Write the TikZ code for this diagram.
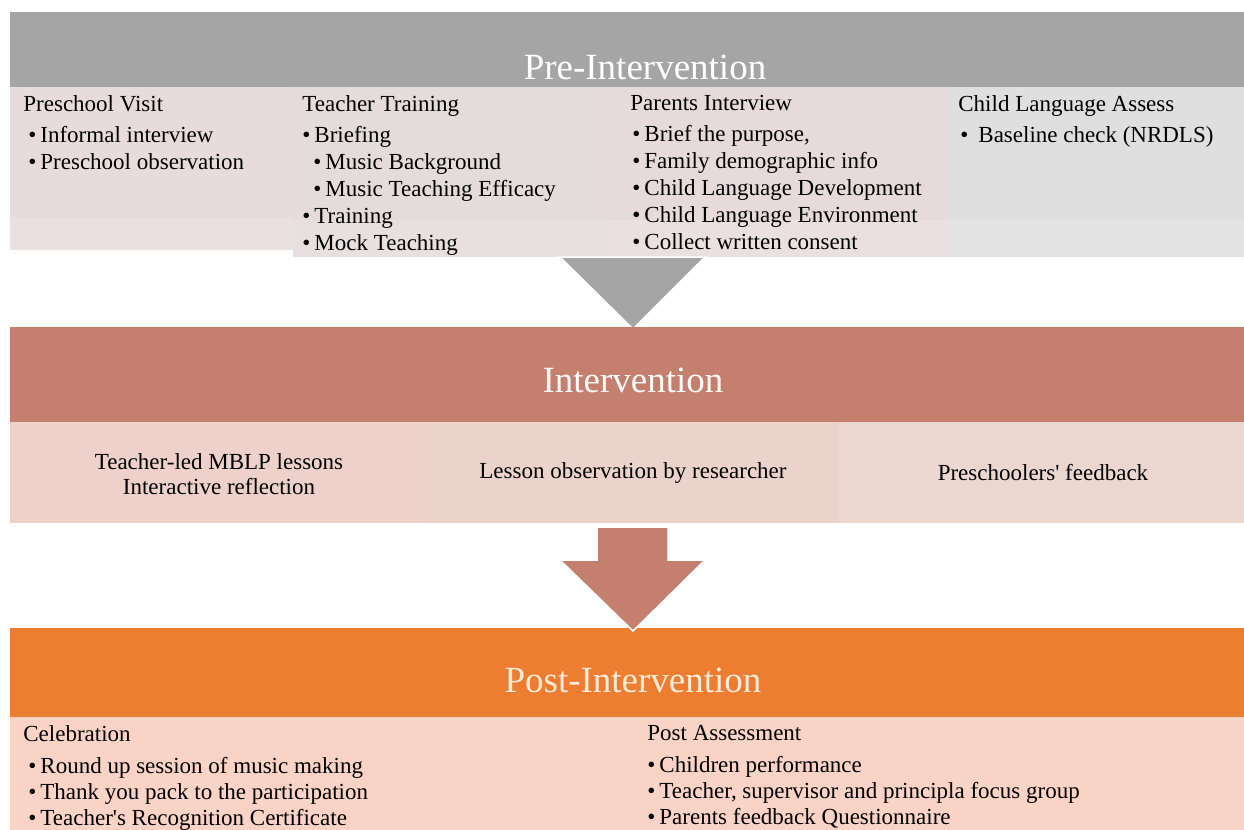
\documentclass[tikz,border=0pt]{standalone}
\usepackage{xcolor}
\usepackage{tikz}
\usepackage{fontspec}
\setmainfont{Liberation Serif}
\usetikzlibrary{positioning, backgrounds}

\definecolor{preGray}{HTML}{A5A5A5}
\definecolor{preA}{HTML}{E8DBDB}
\definecolor{preB}{HTML}{E4DBDB}
\definecolor{preC}{HTML}{E6DBDA}
\definecolor{preD}{HTML}{DFDFDF}
\definecolor{intBrown}{HTML}{C47F6E}
\definecolor{intA}{HTML}{EDD1CA}
\definecolor{intB}{HTML}{EBD3CC}
\definecolor{intC}{HTML}{ECD6D0}
\definecolor{postOrange}{HTML}{ED7D31}
\definecolor{postRow}{HTML}{F8D3C6}
\definecolor{postText}{HTML}{FDEBD9}

\newcommand{\bul}{\textbullet\hspace{2pt}}

\begin{document}
\begin{tikzpicture}[x=0.5pt, y=-0.5pt,
        title/.style={font=\fontsize{18.5}{22}\selectfont, text=white, inner sep=0pt},
        cell/.style={font=\fontsize{11.5}{13.5}\selectfont, align=left, anchor=north west, inner sep=0pt},
        mid/.style={font=\fontsize{11.5}{12.5}\selectfont, align=center, inner sep=0pt}]
        \useasboundingbox (0,0) rectangle (1244,830);

        % pre-intervention
        \fill[preGray] (10,12) rectangle (1244,87);
        \fill[preA] (10,87) rectangle (293,250);
        \fill[preB] (293,87) rectangle (605,257);
        \fill[preC] (605,87) rectangle (948,257);
        \fill[preD] (948,87) rectangle (1244,257);
        \fill[white, opacity=.15] (10,218) rectangle (293,250) (293,220) rectangle (1244,257);
        \node[title] (pre) at (645,67) {Pre-Intervention};
        \node[cell] (visit) at (23,95) {Preschool Visit\\[2pt]
              \hspace*{2.5pt}\bul Informal interview\\
              \hspace*{2.5pt}\bul Preschool observation};
        \node[cell] (training) at (302,95) {Teacher Training\\[2pt]
              \bul Briefing\\
              \hspace*{5.5pt}\bul Music Background\\
              \hspace*{5.5pt}\bul Music Teaching Efficacy\\
              \bul Training\\
              \bul Mock Teaching};
        \node[cell] (parents) at (630,95) {Parents Interview\\[2pt]
              \hspace*{1pt}\bul Brief the purpose,\\
              \hspace*{1pt}\bul Family demographic info\\
              \hspace*{1pt}\bul Child Language Development\\
              \hspace*{1pt}\bul Child Language Environment\\
              \hspace*{1pt}\bul Collect written consent};
        \node[cell] (assess) at (958,95) {Child Language Assess\\[2pt]
              \hspace*{1pt}\textbullet\hspace{5pt}Baseline check (NRDLS)};
        \fill[preGray, draw=white, line width=.75pt] (560,257) -- (705,257) -- (633,329) -- cycle;

        % intervention
        \fill[intBrown] (10,327) rectangle (1244,422);
        \fill[intA] (10,422) rectangle (428,523);
        \fill[intB] (428,422) rectangle (838,523);
        \fill[intC] (838,422) rectangle (1244,523);
        \node[title, text=white!95!intBrown] (int) at (633,380) {Intervention};
        \node[mid] (lessons) at (219,474) {Teacher-led MBLP lessons\\Interactive reflection};
        \node[mid] (observe) at (633,473) {Lesson observation by researcher};
        \node[mid] (feedback) at (1043,473) {Preschoolers\textquotesingle{} feedback};
        \fill[intBrown, draw=white, line width=.75pt] (597,527) -- (668,527) -- (668,560) -- (705,560)
              -- (633,631) -- (560,560) -- (597,560) -- cycle;

        % post-intervention
        \begin{scope}[on background layer]
          \fill[postOrange] (10,628) rectangle (1244,717);
          \fill[postRow] (10,717) rectangle (1244,830);
        \end{scope}
        \node[title, text=postText] (post) at (633,680) {Post-Intervention};
        \node[cell, font=\fontsize{11.5}{13}\selectfont] (celebrate) at (23,725) {Celebration\\[3pt]
              \hspace*{2.5pt}\bul Round up session of music making\\
              \hspace*{2.5pt}\bul Thank you pack to the participation\\
              \hspace*{2.5pt}\bul Teacher\textquotesingle s Recognition Certificate};
        \node[cell, font=\fontsize{11.5}{13}\selectfont] (postassess) at (647,725) {Post Assessment\\[3pt]
              \bul Children performance\\
              \bul Teacher, supervisor and principla focus group\\
              \bul Parents feedback Questionnaire};
\end{tikzpicture}
\end{document}
